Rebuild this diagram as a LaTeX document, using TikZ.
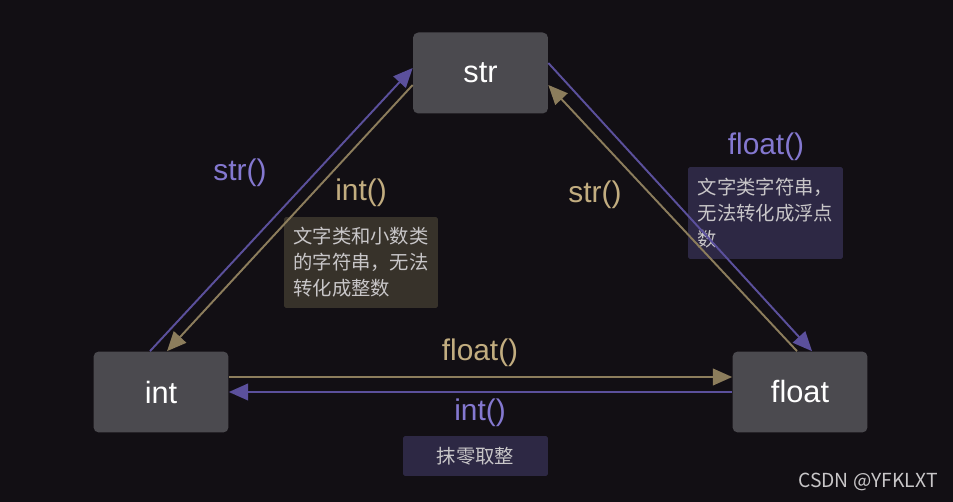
\documentclass[tikz,border=0pt]{standalone}
\usepackage{fontspec}
\setmainfont{Liberation Sans}
\newfontfamily\cjk{Noto Sans CJK SC}
\usepackage{xcolor}
\usetikzlibrary{arrows.meta,positioning}
\definecolor{bgdark}{HTML}{120F14}
\definecolor{boxgray}{HTML}{4B4A4F}
\definecolor{purpline}{HTML}{5B509C}
\definecolor{purptext}{HTML}{8478D0}
\definecolor{goldline}{HTML}{8C7D5C}
\definecolor{goldtext}{HTML}{C2AD80}
\definecolor{goldnote}{HTML}{37322A}
\definecolor{purpnote}{HTML}{2D2844}
\definecolor{notetext}{HTML}{C8C6C8}
\tikzset{
  typebox/.style={rectangle, fill=boxgray, rounded corners=3pt,
                  minimum width=2.7cm, minimum height=1.62cm,
                  text=white, font=\fontsize{17.5}{19}\selectfont},
  notebox/.style={rectangle, rounded corners=1pt, align=left, inner sep=5pt,
                  text=notetext, font=\cjk\fontsize{11}{14.8}\selectfont, fill=#1},
  fnlabel/.style={font=\fontsize{17}{19}\selectfont, text=#1},
  arr/.style={-{Triangle[length=11pt,width=9.5pt]}, line width=1.1pt, draw=#1},
}

\begin{document}
\begin{tikzpicture}[x=0.02cm, y=-0.02cm]
  \fill[bgdark] (0,0) rectangle (953,502);
  \useasboundingbox (0,0) rectangle (953,502);
  % the three types
  \node[typebox] (str)   at (480.5,73) {str};
  \node[typebox] (int)   at (161,392)  {int};
  \node[typebox] (float) at (800,392)  {float};
  % notes (under the lines)
  \node[notebox=goldnote, minimum width=3.08cm, minimum height=1.82cm] (nint) at (361,262.5)
    {文字类和小数类\\的字符串，无法\\转化成整数};
  \node[notebox=purpnote, minimum width=3.1cm, minimum height=1.84cm] (nflt) at (765.5,213)
    {文字类字符串，\\无法转化成浮点\\数};
  \node[notebox=purpnote, minimum width=2.9cm, minimum height=0.8cm] (nround) at (475.5,456)
    {抹零取整};
  % int <-> str
  \draw[arr=purpline] ([xshift=-0.22cm]int.north) -- ([yshift=0.1cm]str.west);
  \draw[arr=goldline] ([yshift=-0.24cm]str.west) -- ([xshift=0.12cm]int.north);
  % str <-> float
  \draw[arr=purpline] ([yshift=0.2cm]str.east) -- ([xshift=0.24cm]float.north);
  \draw[arr=goldline] ([xshift=-0.06cm]float.north) -- ([yshift=-0.24cm]str.east);
  % int <-> float
  \draw[arr=goldline] ([yshift=0.3cm]int.east) -- ([yshift=0.3cm]float.west);
  \draw[arr=purpline] (float.west) -- (int.east);
  % labels
  \node[fnlabel=purptext] (lstr)  at (240,173) {str()};
  \node[fnlabel=goldtext] (lint)  at (361,193) {int()};
  \node[fnlabel=goldtext] (lstr2) at (595,195) {str()};
  \node[fnlabel=purptext] (lflt)  at (766,147) {float()};
  \node[fnlabel=goldtext] (lflt2) at (480,353) {float()};
  \node[fnlabel=purptext] (lint2) at (480,413) {int()};
  % watermark
  \node[text=notetext, font=\cjk\fontsize{11}{13}\selectfont] (mark) at (868,482) {CSDN @YFKLXT};
\end{tikzpicture}
\end{document}
